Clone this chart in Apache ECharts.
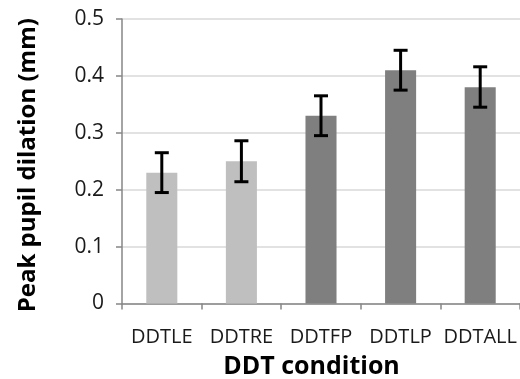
<!DOCTYPE html>
<html><head><meta charset="utf-8">
<script src="https://cdn.jsdelivr.net/npm/echarts@6/dist/echarts.min.js"></script>
<style>html,body{margin:0;padding:0;background:#fff}#c{width:520px;height:379px}</style>
</head><body><div id="c"></div>
<script>
const categories = ['DDTLE','DDTRE','DDTFP','DDTLP','DDTALL'];
const values = [0.23, 0.25, 0.33, 0.41, 0.38];
const errLow = [0.195, 0.214, 0.295, 0.375, 0.345];
const errHigh = [0.265, 0.286, 0.365, 0.445, 0.416];
const barColors = ['#bfbfbf','#bfbfbf','#7f7f7f','#7f7f7f','#7f7f7f'];
const yTicks = [0, 0.1, 0.2, 0.3, 0.4, 0.5];

const chart = echarts.init(document.getElementById('c'), null, {renderer:'canvas'});
const F = 'Open Sans';
chart.setOption({
  animation:false,
  grid:{left:122,right:0,top:19,bottom:75.5,containLabel:false,outerBoundsMode:'none'},
  xAxis:{type:'category',data:categories,
    axisLine:{lineStyle:{color:'#868686',width:1.5}},
    axisTick:{show:true,length:6,lineStyle:{color:'#868686',width:1.5}},
    axisLabel:{interval:0,fontFamily:F,fontSize:20,color:'#1a1a1a',margin:24},
    name:'DDT condition',nameLocation:'middle',nameGap:51,
    nameTextStyle:{fontFamily:F,fontSize:25,fontWeight:'bold',color:'#000',padding:[0,19,0,0]}},
  yAxis:{type:'value',min:0,max:0.5,interval:0.1,
    axisLine:{show:true,lineStyle:{color:'#868686',width:1.5}},
    axisTick:{show:true,length:6,lineStyle:{color:'#868686',width:1.5}},
    splitLine:{lineStyle:{color:'#d9d9d9',width:1.5}},
    axisLabel:{fontFamily:F,fontSize:21,color:'#1a1a1a',margin:18,
      formatter:v=>{const t=yTicks.find(x=>Math.abs(x-v)<1e-9);return t===0?'0':String(t);}},
    name:'Peak pupil dilation (mm)',nameLocation:'middle',nameGap:82,
    nameTextStyle:{fontFamily:F,fontSize:24,fontWeight:'bold',color:'#000',padding:[0,8,0,0]}},
  series:[
    {type:'bar',barWidth:'39%',
     data:values.map((v,i)=>({value:v,itemStyle:{color:barColors[i]}}))},
    {type:'custom',z:10,
     data:categories.map((c,i)=>[i,errLow[i],errHigh[i]]),
     renderItem:(params,api)=>{
       const lo=api.coord([api.value(0),api.value(1)]);
       const hi=api.coord([api.value(0),api.value(2)]);
       const hw=7;
       const st={stroke:'#000',lineWidth:3};
       return {type:'group',children:[
         {type:'line',shape:{x1:hi[0],y1:hi[1],x2:lo[0],y2:lo[1]},style:st},
         {type:'line',shape:{x1:hi[0]-hw,y1:hi[1],x2:hi[0]+hw,y2:hi[1]},style:st},
         {type:'line',shape:{x1:lo[0]-hw,y1:lo[1],x2:lo[0]+hw,y2:lo[1]},style:st}
       ]};
     }}
  ]
});
</script></body></html>
